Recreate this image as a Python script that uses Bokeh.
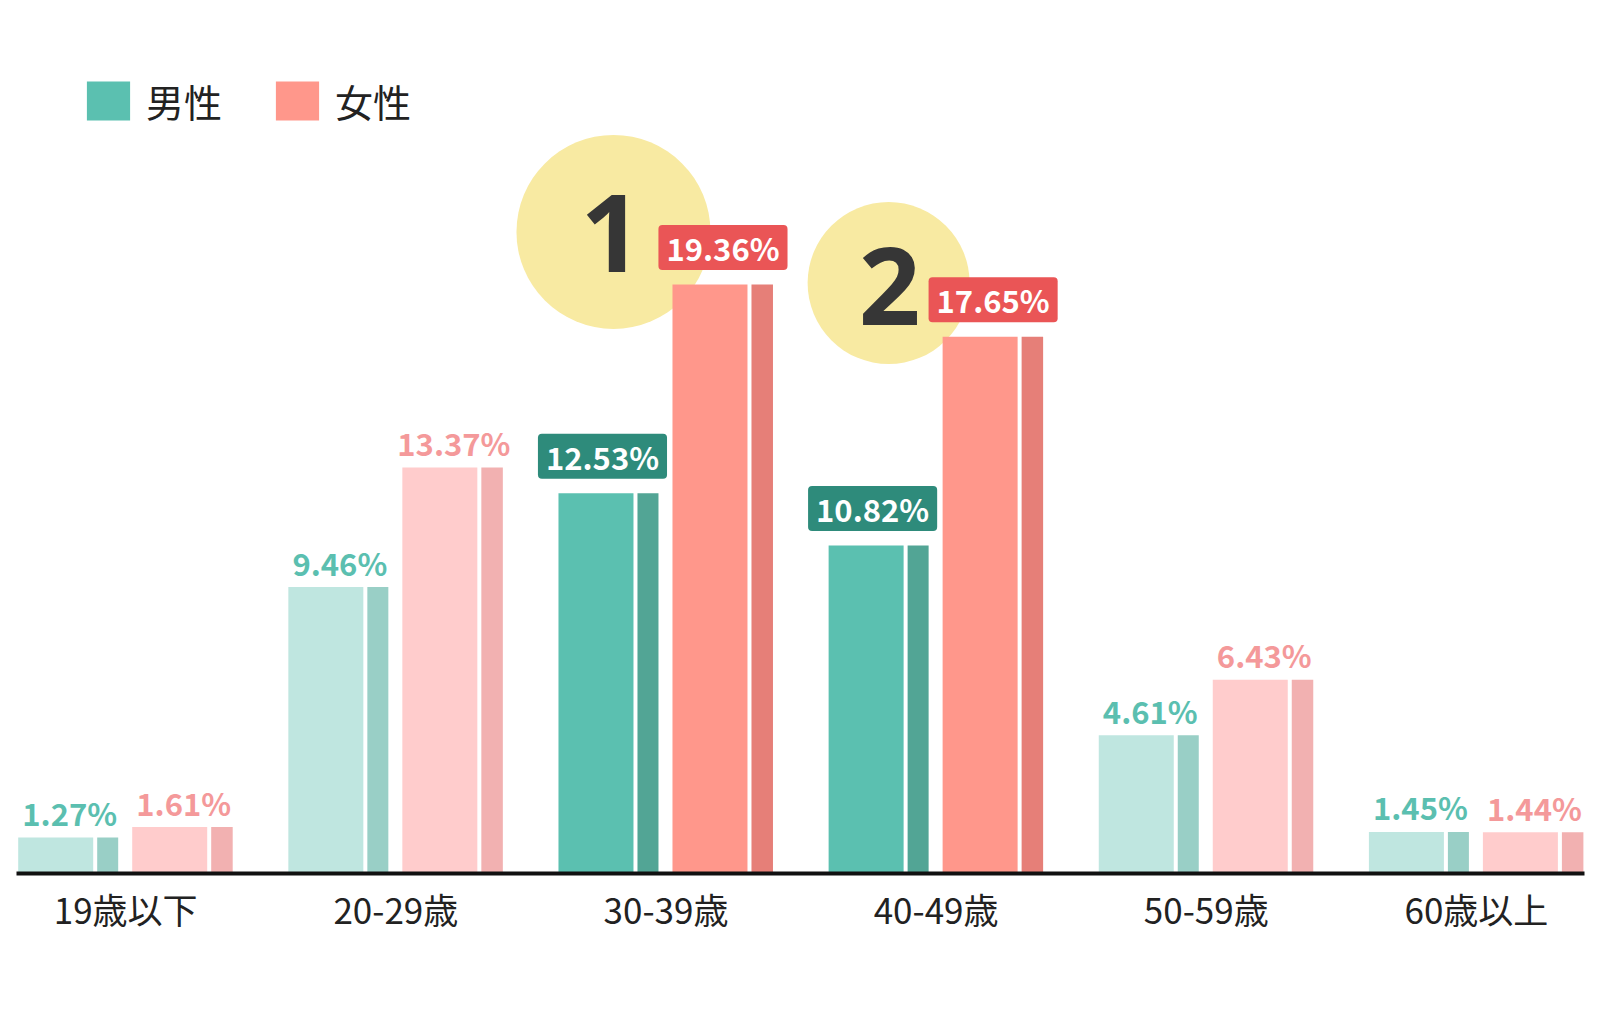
from bokeh.plotting import figure
from bokeh.models import Range1d, FixedTicker, Legend, LegendItem, ColumnDataSource
from bokeh.embed import file_html
from bokeh.resources import INLINE
from bokeh.core.properties import value

# ---------------- data ----------------
categories = ["19歳以下", "20-29歳", "30-39歳", "40-49歳", "50-59歳", "60歳以上"]
male = [1.27, 9.46, 12.53, 10.82, 4.61, 1.45]
female = [1.61, 13.37, 19.36, 17.65, 6.43, 1.44]
rank = ["", "", "1", "2", "", ""]
series_names = ["男性", "女性"]

# ---------------- style ----------------
FONT = value("Noto Sans CJK JP")
RANK_FONT = value("Noto Sans")
W, H = 1600, 1012
BORDER_L, BORDER_R, BORDER_T, BORDER_B = 16, 16, 8, 139
FRAME_W = W - BORDER_L - BORDER_R
FRAME_H = H - BORDER_T - BORDER_B
PX_PER_CAT = 270.14          # px between category centres
FIRST_CAT_PX = 109.2         # px from frame left to first category centre
PX_PER_PCT = 30.57           # px per 1 %
ZERO_PX_BELOW_FRAME = 2.8    # zero line sits under the thick base line

dx = 1.0 / PX_PER_CAT
dy = 1.0 / PX_PER_PCT

C = {
    "m_main_hi": "#5BC0B0", "m_side_hi": "#52A595",
    "m_main_lo": "#BFE6E0", "m_side_lo": "#99CFC6",
    "f_main_hi": "#FF978B", "f_side_hi": "#E67F78",
    "f_main_lo": "#FFCCCC", "f_side_lo": "#F2B1B1",
    "m_text": "#5BBFB0", "f_text": "#F4999A",
    "m_box": "#2E8B7B", "f_box": "#EA5556",
    "circle": "#F8EAA2", "rank_text": "#363636",
}

RANK_STYLE = {
    "1": dict(cx=-52.5, up=52.5, size=194, tx=-2.0, ty=1.5),
    "2": dict(cx=-47.5, up=53.7, size=162, tx=1.0, ty=3.0),
}

p = figure(
    width=W, height=H, output_backend="svg", toolbar_location=None,
    x_range=Range1d(-FIRST_CAT_PX * dx, (FRAME_W - FIRST_CAT_PX) * dx),
    y_range=Range1d(ZERO_PX_BELOW_FRAME * dy, (FRAME_H + ZERO_PX_BELOW_FRAME) * dy),
    y_axis_location=None,
    min_border_left=BORDER_L, min_border_right=BORDER_R,
    min_border_top=BORDER_T, min_border_bottom=BORDER_B,
)
p.outline_line_color = None
p.xgrid.visible = False
p.ygrid.visible = False
p.background_fill_color = "white"

idx = list(range(len(categories)))
hi = [r != "" for r in rank]
ci = [i for i in idx if hi[i]]
lo = [i for i in idx if not hi[i]]

# ---------------- rank circles ----------------
circ = ColumnDataSource(dict(
    x=[i + RANK_STYLE[rank[i]]["cx"] * dx for i in ci],
    y=[female[i] + RANK_STYLE[rank[i]]["up"] * dy for i in ci],
    size=[RANK_STYLE[rank[i]]["size"] for i in ci],
    label=[rank[i] for i in ci],
    tx=[RANK_STYLE[rank[i]]["tx"] for i in ci],
    ty=[RANK_STYLE[rank[i]]["ty"] for i in ci],
))
p.scatter("x", "y", size="size", marker="circle", source=circ,
          fill_color=C["circle"], line_color=None)
p.text("x", "y", text="label", x_offset="tx", y_offset="ty", source=circ,
       text_font=RANK_FONT, text_font_style="bold", text_font_size="108px",
       text_color=C["rank_text"], text_align="center", text_baseline="middle")

# ---------------- bars ----------------
parts = [
    (male, -70.0, 75.0, "m_main"),
    (male, -18.0, 21.0, "m_side"),
    (female, 44.0, 75.0, "f_main"),
    (female, 96.25, 21.5, "f_side"),
]
bar_renderers = {}
for vals, off, wpx, key in parts:
    src = ColumnDataSource(dict(
        x=[i + off * dx for i in idx],
        top=vals,
        color=[C[key + ("_hi" if hi[i] else "_lo")] for i in idx],
    ))
    bar_renderers[key] = p.vbar(x="x", top="top", bottom=0, width=wpx * dx,
                                source=src, fill_color="color", line_color=None)

# ---------------- plain value labels ----------------
for vals, off, col in [(male, -56.0, C["m_text"]), (female, 58.0, C["f_text"])]:
    src = ColumnDataSource(dict(
        x=[i + off * dx for i in lo],
        y=[vals[i] for i in lo],
        t=[f"{vals[i]:.2f}%" for i in lo],
    ))
    p.text("x", "y", text="t", source=src, y_offset=-25,
           text_font=FONT, text_font_style="bold", text_font_size="31px",
           text_color=col, text_align="center", text_baseline="alphabetic")

# ---------------- boxed value labels ----------------
for vals, off, box in [(male, -63.5, C["m_box"]), (female, 57.0, C["f_box"])]:
    src = ColumnDataSource(dict(
        x=[i + off * dx for i in ci],
        y=[vals[i] for i in ci],
        t=[f"{vals[i]:.2f}%" for i in ci],
    ))
    p.text("x", "y", text="t", source=src, y_offset=-37,
           text_font=FONT, text_font_style="bold", text_font_size="31px",
           text_color="white", text_align="center", text_baseline="middle",
           background_fill_color=box, border_radius=4, padding=(8, 0))

# ---------------- x axis ----------------
ax = p.xaxis[0]
ax.ticker = FixedTicker(ticks=idx)
ax.major_label_overrides = {i: c for i, c in zip(idx, categories)}
ax.major_tick_in = 0
ax.major_tick_out = 0
ax.minor_tick_line_color = None
ax.axis_line_width = 4
ax.axis_line_color = "#111111"
ax.major_label_standoff = 9
ax.major_label_text_font = "Noto Sans CJK JP"
ax.major_label_text_font_size = "35px"
ax.major_label_text_color = "#222222"

# ---------------- legend ----------------
first_hi = ci[0]
legend = Legend(
    items=[LegendItem(label=series_names[0], renderers=[bar_renderers["m_main"]], index=first_hi),
           LegendItem(label=series_names[1], renderers=[bar_renderers["f_main"]], index=first_hi)],
    orientation="horizontal", location=(65, 745),
    glyph_width=54, glyph_height=49, label_standoff=11, spacing=48,
    padding=0, margin=0, border_line_color=None, background_fill_alpha=0,
    label_text_font="Noto Sans CJK JP", label_text_font_size="38px",
    label_text_color="#222222",
)
p.add_layout(legend)

open("out.html", "w").write(file_html(p, INLINE))
